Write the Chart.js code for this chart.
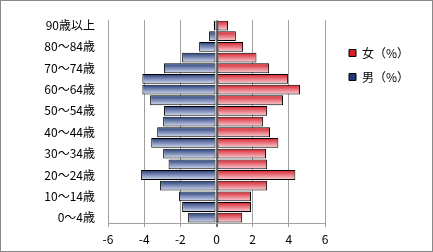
<html lang="ja">
<head>
<meta charset="UTF-8">
<title>人口ピラミッド</title>
<script src="https://cdn.jsdelivr.net/npm/chart.js"></script>
<style>
  body { margin: 0; background: #fff; }
  #wrap { position: relative; width: 433px; height: 252px; }
  #frame { position: absolute; left: 0; top: 0; width: 433px; height: 252px; box-sizing: border-box; border: 1px solid #888; pointer-events: none; }
</style>
</head>
<body>
<div id="wrap">
  <canvas id="pyramid" width="433" height="252"></canvas>
  <div id="frame"></div>
</div>
<script>
// age groups, bottom to top
const ageGroups = ['0～4歳', '5～9歳', '10～14歳', '15～19歳', '20～24歳', '25～29歳', '30～34歳',
  '35～39歳', '40～44歳', '45～49歳', '50～54歳', '55～59歳', '60～64歳', '65～69歳',
  '70～74歳', '75～79歳', '80～84歳', '85～89歳', '90歳以上'];

// male shares are drawn to the left, so negative
const male = [-1.57, -1.90, -2.07, -3.12, -4.17, -2.65, -2.95, -3.61, -3.28, -2.95,
  -2.90, -3.67, -4.10, -4.10, -2.90, -1.90, -0.96, -0.41, -0.15];
const female = [1.42, 1.91, 1.91, 2.80, 4.36, 2.80, 2.74, 3.42, 2.96, 2.58,
  2.80, 3.68, 4.62, 3.96, 2.91, 2.21, 1.47, 1.07, 0.64];

const xTicks = [-6, -4, -2, 0, 2, 4, 6];

const barPct = 0.92;

// vertical gradient per bar, worked out from the category scale
function barFill(top, bottom, solid) {
  return function (ctx) {
    if (ctx.type !== 'data') return solid;
    const chart = ctx.chart;
    const y = chart.scales.y;
    if (!y || !chart.chartArea) return solid;
    const c = y.getPixelForValue(ctx.dataIndex);
    const h = (y.height / ageGroups.length) * barPct / 2;
    const g = chart.ctx.createLinearGradient(0, c - h, 0, c + h);
    g.addColorStop(0, top);
    g.addColorStop(1, bottom);
    return g;
  };
}

const labelFont = { family: '"Noto Sans CJK JP", "Noto Sans", sans-serif', size: 12 };

// put the legend where it sits in the original
const moveLegend = {
  id: 'moveLegend',
  afterLayout(chart) {
    const lg = chart.legend;
    const dx = 337 - lg.left;
    const dy = 35 - lg.top;
    lg.left += dx; lg.right += dx;
    lg.top += dy; lg.bottom += dy;
  }
};

const chart = new Chart(document.getElementById('pyramid').getContext('2d'), {
  type: 'bar',
  data: {
    labels: ageGroups,
    datasets: [
      {
        label: '男（%）',
        data: male,
        backgroundColor: barFill('#213a78', '#d8def2', '#6f82b8'),
        borderColor: '#000',
        borderWidth: 1,
        borderSkipped: false,
        barPercentage: 1,
        categoryPercentage: barPct
      },
      {
        label: '女（%）',
        data: female,
        backgroundColor: barFill('#d81c28', '#f8d4da', '#e56a74'),
        borderColor: '#000',
        borderWidth: 1,
        borderSkipped: false,
        barPercentage: 1,
        categoryPercentage: barPct
      }
    ]
  },
  options: {
    indexAxis: 'y',
    responsive: false,
    animation: false,
    layout: { padding: { left: 0, right: 0, top: 15, bottom: 0 } },
    plugins: {
      tooltip: { enabled: false },
      legend: {
        position: 'right',
        align: 'start',
        reverse: true,
        labels: {
          boxWidth: 7,
          boxHeight: 7,
          padding: 12,
          color: '#000',
          font: labelFont
        }
      }
    },
    scales: {
      x: {
        stacked: true,
        min: -6,
        max: 6,
        afterBuildTicks: function (scale) {
          scale.ticks = xTicks.map(v => ({ value: v }));
        },
        afterFit: function (scale) { scale.height = 29; },
        ticks: { color: '#000', font: labelFont, padding: 5 },
        grid: {
          color: ctx => (ctx.tick && ctx.tick.value === 0) ? '#707070' : '#a0a0a0',
          lineWidth: ctx => (ctx.tick && ctx.tick.value === 0) ? 2 : 1,
          tickLength: 4
        },
        border: { display: true, color: '#a0a0a0' }
      },
      y: {
        stacked: true,
        reverse: true,
        afterFit: function (scale) { scale.width = 108; },
        ticks: {
          autoSkip: false,
          color: '#000',
          font: labelFont,
          padding: 13,
          callback: function (value, index) {
            return index % 2 === 0 ? this.getLabelForValue(value) : '';
          }
        },
        grid: { display: false, drawTicks: false },
        border: { display: false }
      }
    }
  },
  plugins: [moveLegend]
});

// legend width depends on the text, so trim the right side until the plot ends at x=325
chart.options.layout.padding.right = Math.max(0, chart.chartArea.right - 325);
chart.update();
</script>
</body>
</html>
